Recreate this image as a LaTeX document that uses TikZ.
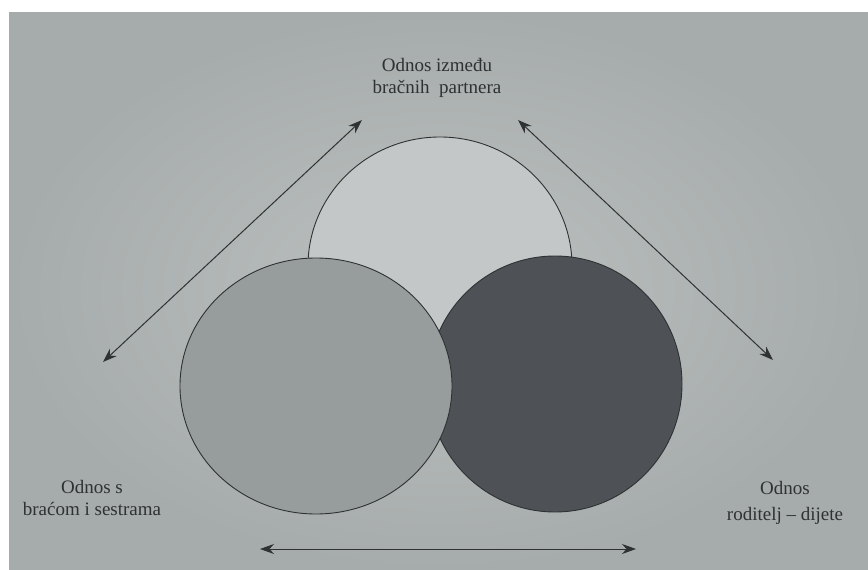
\documentclass[tikz,border=0pt]{standalone}
\usepackage{fontspec}
\setmainfont{Liberation Serif}
\usetikzlibrary{arrows.meta}
\definecolor{bgL}{HTML}{BCC0C0}
\definecolor{bgD}{HTML}{A6ACAB}
\definecolor{topc}{HTML}{C4C7C7}
\definecolor{leftc}{HTML}{979C9C}
\definecolor{rightc}{HTML}{4E5156}
\definecolor{ink}{HTML}{2F3133}
\tikzset{
  blob/.style={draw=ink, line width=0.9pt},
  rel/.style={draw=ink, line width=1pt, {Stealth[length=14pt,width=10pt]}-{Stealth[length=14pt,width=10pt]}},
  lbl/.style={text=ink, align=center, font=\fontsize{19}{22}\selectfont, inner sep=0pt}
}
\begin{document}
\begin{tikzpicture}[x=1pt,y=-1pt]
\useasboundingbox (0,0) rectangle (868,570);
\fill[white] (0,0) rectangle (868,570);
\shade[inner color=bgL, outer color=bgD] (9,12) rectangle (868,570);
% circles
\fill[topc, blob] (440,266) ellipse [x radius=132, y radius=129];
\fill[rightc, blob] (555,384) ellipse [x radius=127, y radius=128];
\fill[leftc, blob] (316,386) ellipse [x radius=136, y radius=128];
% labels
\node[lbl] (top) at (437,78) {Odnos između\\bračnih \ partnera};
\node[lbl] (left) at (92,498) {Odnos s\\braćom i sestrama};
\node[lbl, font=\fontsize{19}{26}\selectfont] (right) at (785,503) {Odnos\\roditelj – dijete};
% arrow end points
\coordinate (l1) at (103,362);
\coordinate (l2) at (362,120);
\coordinate (r1) at (518,120);
\coordinate (r2) at (773,360);
\coordinate (b1) at (260,549);
\coordinate (b2) at (636,549);
\draw[rel] (l1) -- (l2);
\draw[rel] (r1) -- (r2);
\draw[rel] (b1) -- (b2);
\end{tikzpicture}
\end{document}
